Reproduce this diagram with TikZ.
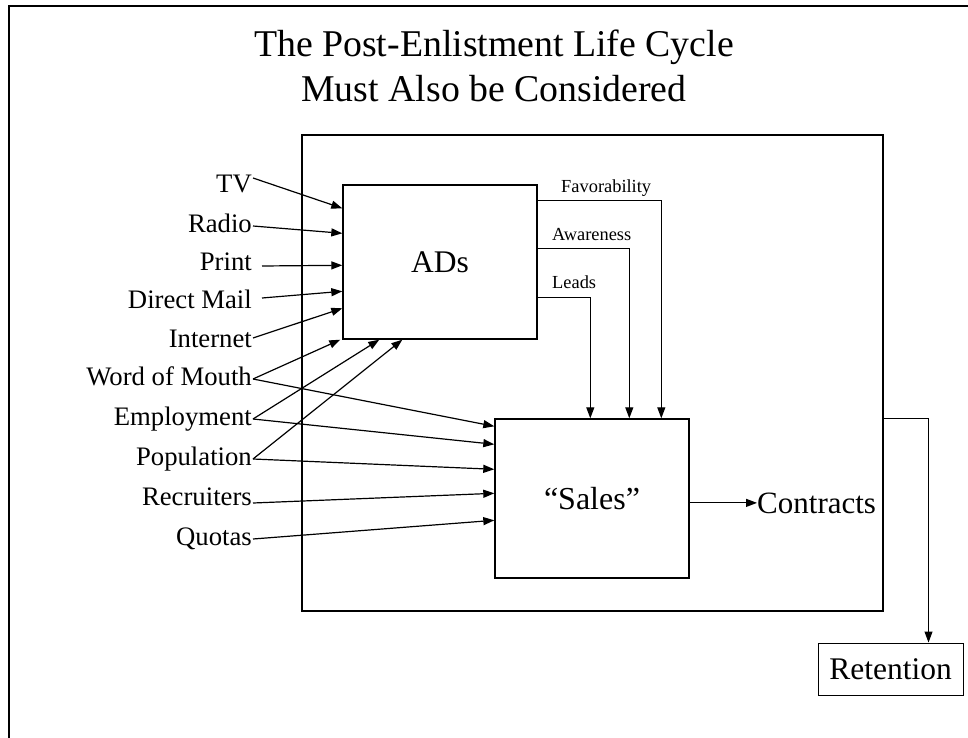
\documentclass[tikz,border=0pt]{standalone}
\usepackage{fontspec}
\setmainfont{Liberation Serif}
\usetikzlibrary{arrows.meta,calc}
\newcommand{\fsz}[1]{\fontsize{#1}{#1}\selectfont}
\tikzset{
  box/.style={draw, line width=1.4pt, inner sep=0pt},
  lbl/.style={inner sep=0pt, anchor=base east, font=\fsz{26.7}},
  small/.style={inner sep=0pt, anchor=base west, font=\fsz{18.4}},
  arr/.style={line width=1.2pt, -{Triangle[length=11pt,width=8pt]}},
  ttl/.style={inner sep=0pt, anchor=base, font=\fsz{37.8}},
}
\begin{document}
\begin{tikzpicture}[x=1pt,y=-1pt]
\useasboundingbox (0,0) rectangle (968,738);
% page frame (extends past the image)
\draw[line width=1.6pt] (9,738) -- (9,6) -- (968,6);
% title
\node[ttl] (title1) at (494,57) {The Post-Enlistment Life Cycle};
\node[ttl] (title2) at (494,102) {Must Also be Considered};
% boxes
\node[box, minimum width=581pt, minimum height=476pt] (outer) at (592.5,373) {};
\node[box, minimum width=194pt, minimum height=154pt, font=\fsz{31.5}] (ads) at (440,262) {ADs};
\node[box, minimum width=194pt, minimum height=159pt, font=\fsz{32}] (sales) at (592,498.5) {``Sales''};
\node[draw, line width=1pt, inner sep=0pt, minimum width=145pt, minimum height=52pt, font=\fsz{31.5}] (ret) at (890.5,669) {Retention};
\node[inner sep=0pt, anchor=base west, font=\fsz{31}] (contracts) at (757,513) {Contracts};
% left labels
\node[lbl] (tv) at (252,193) {TV};
\node[lbl] (radio) at (252,232) {Radio};
\node[lbl] (print) at (252,270) {Print};
\node[lbl] (dm) at (252,308) {Direct Mail};
\node[lbl] (inet) at (252,347) {Internet};
\node[lbl] (wom) at (252,385) {Word of Mouth};
\node[lbl] (emp) at (252,425) {Employment};
\node[lbl] (pop) at (252,465) {Population};
\node[lbl] (rec) at (252,505) {Recruiters};
\node[lbl] (quo) at (252,545) {Quotas};
% inputs to ADs
\draw[arr] ($(tv.base east)+(1,-15)$) -- ($(ads.north west)+(0,24)$);
\draw[arr] ($(radio.base east)+(1,-6)$) -- ($(ads.north west)+(0,49)$);
\draw[arr] ($(print.base east)+(10,-4)$) -- ($(ads.north west)+(0,81)$);
\draw[arr] ($(dm.base east)+(10,-10)$) -- ($(ads.north west)+(0,107)$);
\draw[arr] ($(inet.base east)+(1,-9)$) -- ($(ads.north west)+(0,124)$);
\draw[arr] ($(wom.base east)+(1,-6)$) -- ($(ads.south west)+(-2,0)$);
\draw[arr] ($(emp.base east)+(1,-6)$) -- ($(ads.south west)+(37,0)$);
\draw[arr] ($(pop.base east)+(1,-6)$) -- ($(ads.south west)+(60,0)$);
% inputs to Sales
\draw[arr] ($(wom.base east)+(1,-6)$) -- ($(sales.north west)+(0,8)$);
\draw[arr] ($(emp.base east)+(1,-6)$) -- ($(sales.north west)+(0,26)$);
\draw[arr] ($(pop.base east)+(1,-6)$) -- ($(sales.north west)+(0,51)$);
\draw[arr] ($(rec.base east)+(1,-2)$) -- ($(sales.north west)+(0,75)$);
\draw[arr] ($(quo.base east)+(1,-6)$) -- ($(sales.north west)+(0,102)$);
% ADs to Sales
\draw[arr] ($(ads.north east)+(0,16)$) -| ($(sales.north west)+(167,0)$);
\draw[arr] ($(ads.north east)+(0,64)$) -| ($(sales.north west)+(135,0)$);
\draw[arr] ($(ads.north east)+(0,113)$) -| ($(sales.north west)+(96,0)$);
\node[small] (fav) at (561,192) {Favorability};
\node[small] (awa) at (552,240) {Awareness};
\node[small] (lea) at (552,288) {Leads};
% Sales to Contracts
\draw[arr] (contracts.west -| sales.east) -- (contracts.west);
% to Retention
\draw[arr, line width=1pt] ($(outer.north east)+(0,284)$) -| ($(ret.north west)+(111,0)$);
\end{tikzpicture}
\end{document}
